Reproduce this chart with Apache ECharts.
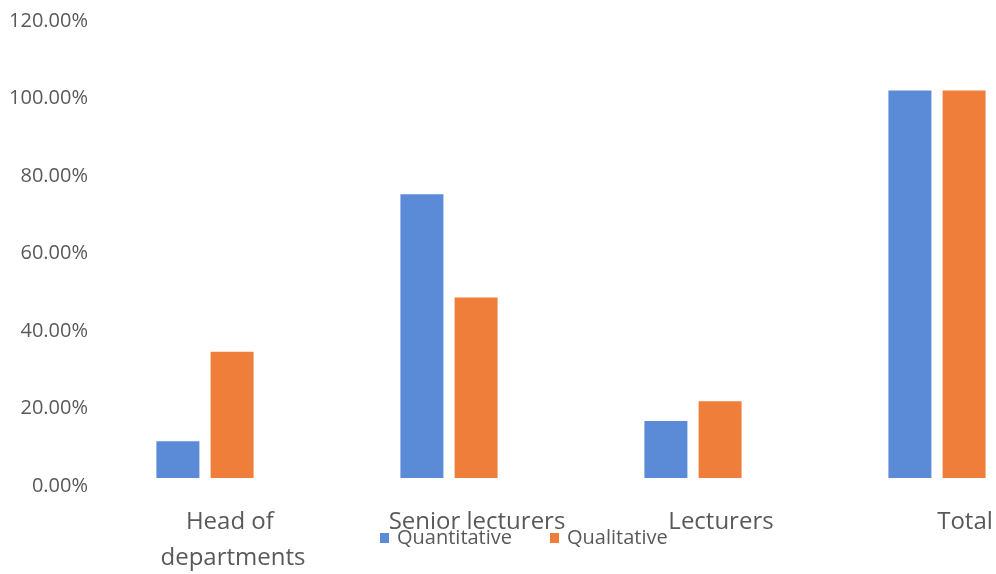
<!DOCTYPE html>
<html>
<head>
<meta charset="utf-8">
<script src="https://cdn.jsdelivr.net/npm/echarts@6/dist/echarts.min.js"></script>
<style>html,body{margin:0;padding:0;background:#fff}#c{width:996px;height:574px}</style>
</head>
<body>
<div id="c"></div>
<script>
const categories = ['Head of departments', 'Senior lecturers', 'Lecturers', 'Total'];
const quantitative = [9.5, 73.2, 14.7, 100];
const qualitative = [32.6, 46.6, 19.8, 100];
const yTicks = [0, 20, 40, 60, 80, 100, 120];

const chart = echarts.init(document.getElementById('c'), null, {renderer: 'canvas'});
chart.setOption({
  backgroundColor: '#ffffff',
  animation: false,
  grid: {left: 83, top: 13, width: 976, height: 465, containLabel: false, outerBoundsMode: 'none'},
  legend: {
    left: 380, top: 528, padding: 0, icon: 'rect', itemWidth: 9, itemHeight: 10, itemGap: 38,
    textStyle: {color: '#595959', fontSize: 20, fontFamily: 'Open Sans', padding: [9, 0, 0, 3]},
    data: ['Quantitative', 'Qualitative']
  },
  xAxis: {
    type: 'category', data: categories,
    axisLine: {show: false}, axisTick: {show: false},
    axisLabel: {
      interval: 0, hideOverlap: false, color: '#595959', fontSize: 24, fontFamily: 'Open Sans',
      lineHeight: 36, margin: 26, width: 220, overflow: 'break', padding: [0, 0, 0, 56]
    }
  },
  yAxis: {
    type: 'value', min: yTicks[0], max: yTicks[yTicks.length - 1], interval: 20,
    axisLine: {show: false}, axisTick: {show: false}, splitLine: {show: false},
    axisLabel: {
      color: '#595959', fontSize: 20, fontFamily: 'Open Sans', margin: -5,
      verticalAlign: 'top', lineHeight: 16,
      formatter: v => v.toFixed(2) + '%'
    }
  },
  series: [
    {name: 'Quantitative', type: 'bar', data: quantitative, barWidth: 43, barGap: '26%',
     itemStyle: {color: '#5b8bd6'}},
    {name: 'Qualitative', type: 'bar', data: qualitative, barWidth: 43,
     itemStyle: {color: '#ef7e3b'}}
  ]
});
</script>
</body>
</html>
